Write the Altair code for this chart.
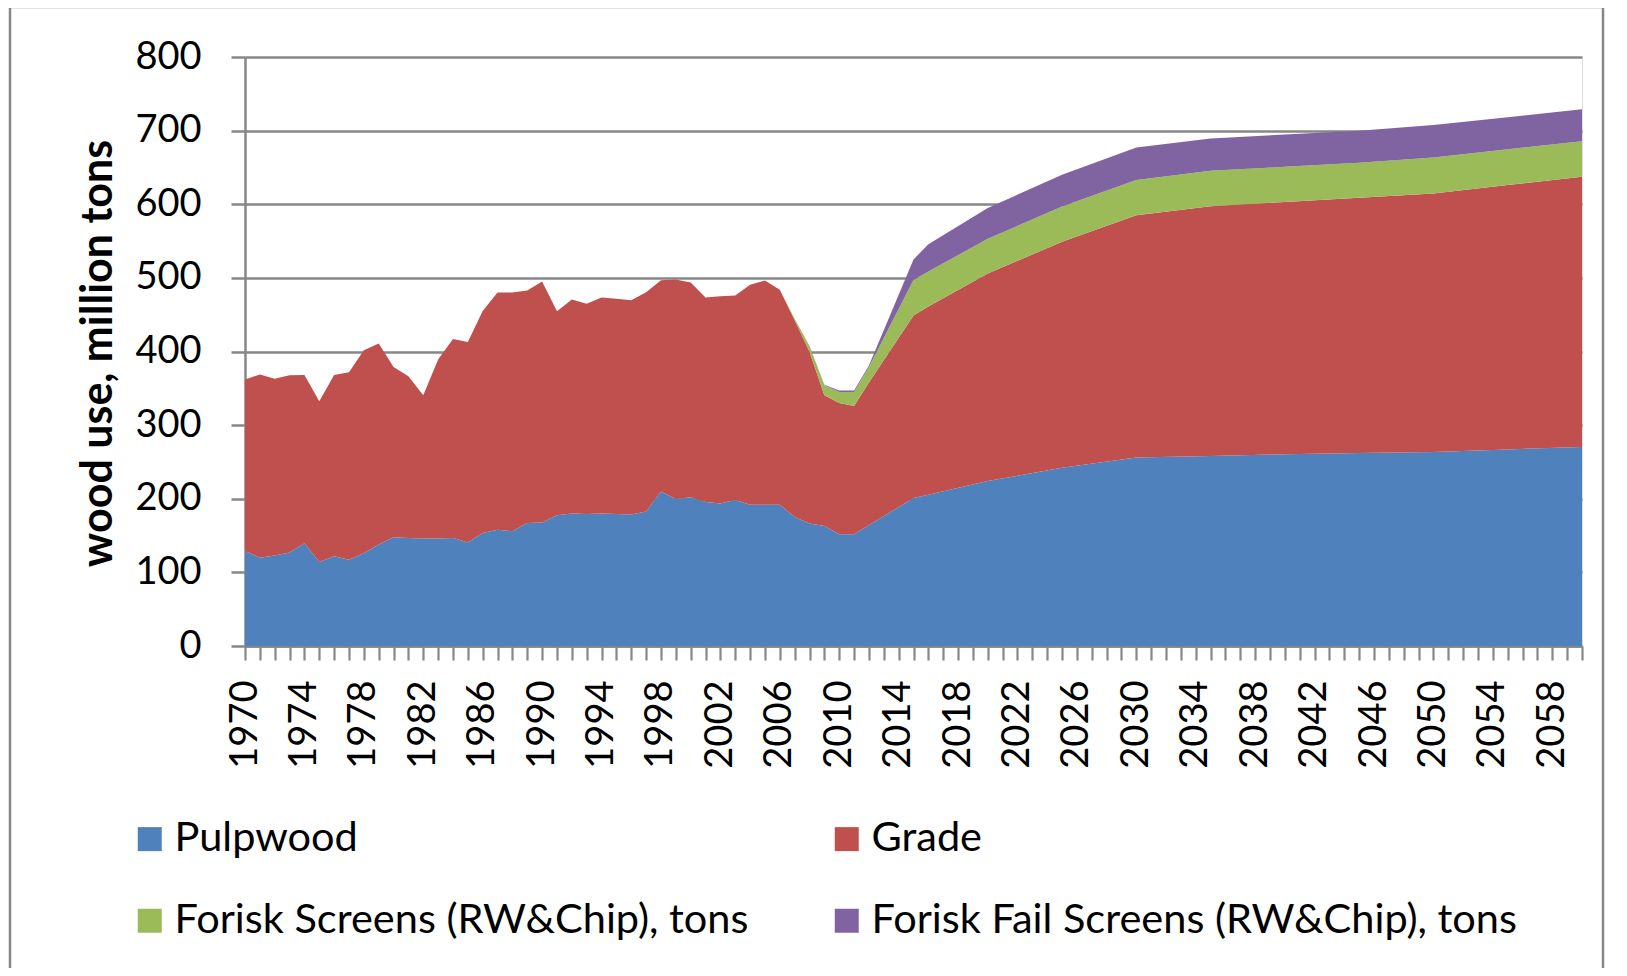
import altair as alt
import pandas as pd

years = list(range(1970, 2013)) + [2015, 2016, 2020, 2025, 2030, 2035, 2040, 2045, 2050, 2055, 2060]

pulpwood = [129, 120, 123, 127, 139.5, 114, 122, 117, 126, 138,
            147.7, 146.7, 146, 146, 146.7, 140.5, 153.6, 158, 156, 167,
            167.6, 177.6, 180, 179.4, 180, 179.4, 178.5, 182.6, 210, 199.8,
            202, 195.7, 193.5, 198.4, 192, 192, 192, 175.3, 166.3, 163,
            151.8, 151.8, 164,
            201, 205.6, 224, 242, 256, 258, 260.5, 262, 263.6, 267, 270.4]

grade = [233, 248.7, 240, 240.8, 228.5, 218.5, 246, 254.9, 275.8, 272.9,
         231.3, 219.7, 194.6, 243, 270.3, 272.5, 301.4, 322, 324, 316,
         327.4, 277.1, 290.6, 285.6, 293.3, 292.1, 291.2, 298, 286.9, 298,
         291.7, 277.6, 281.5, 277.6, 298.5, 304.4, 292, 267.2, 233.2, 177.6,
         178.2, 174.2, 194,
         248, 255.4, 282, 307, 329, 339.4, 342.5, 346.7, 351, 359, 366.8]

screens = [0] * 37 + [2, 7.5, 13.4, 15, 19, 21,
                      48, 47.7, 47, 48, 48, 48, 47.8, 47.7, 48.9, 48.7, 48.5]

fail_screens = [0] * 37 + [0, 0.5, 1, 2, 2, 2,
                           28, 37, 42, 43, 44, 44, 44, 43.6, 44, 43.6, 43.3]

series_names = ["Pulpwood", "Grade", "Forisk Screens (RW&Chip), tons",
                "Forisk Fail Screens (RW&Chip), tons"]
series_colors = ["#4F81BD", "#C0504D", "#9BBB59", "#8064A2"]
y_ticks = list(range(0, 801, 100))
x_ticks = list(range(1970, 2061))

values = [pulpwood, grade, screens, fail_screens]
rows = []
for i, name in enumerate(series_names):
    for yr, v in zip(years, values[i]):
        rows.append({"year": yr, "value": v, "series": name, "order": i})
df = pd.DataFrame(rows)

FONT = "Lato"
GRAY = "#878787"

area = alt.Chart(df).mark_area(opacity=1, interpolate="linear").encode(
    x=alt.X("year:Q",
            scale=alt.Scale(domain=[1970, 2060], nice=False, zero=False),
            axis=alt.Axis(values=x_ticks, format="d", title=None,
                          labelExpr="(datum.value - 1970) % 4 == 0 ? datum.label : ''",
                          labelAngle=270, labelFontSize=38, labelFont=FONT,
                          labelColor="#000000", labelPadding=20, labelOverlap=False,
                          labelFlush=False, tickSize=14, tickWidth=2.2, tickColor=GRAY,
                          domainColor=GRAY, domainWidth=2.5, grid=False)),
    y=alt.Y("value:Q", stack="zero",
            scale=alt.Scale(domain=[0, 800], nice=False),
            axis=alt.Axis(values=y_ticks, title="wood use, million tons",
                          titleFont=FONT, titleFontSize=43, titleFontWeight="bold",
                          titleColor="#000000", titleAngle=270, titleX=-147, titleY=296,
                          titleAlign="center", titleBaseline="middle",
                          labelFontSize=38, labelFont=FONT, labelColor="#000000",
                          labelPadding=30, labelFlush=False, tickSize=14, tickWidth=2.5,
                          tickColor=GRAY, domainColor=GRAY, domainWidth=2.5,
                          grid=True, gridColor=GRAY, gridWidth=2.5)),
    color=alt.Color("series:N",
                    scale=alt.Scale(domain=series_names, range=series_colors),
                    legend=alt.Legend(title=None, orient="none", legendX=-116, legendY=761,
                                      direction="horizontal",
                                      columns=2, symbolType="square", symbolSize=576,
                                      symbolStrokeWidth=0, symbolOpacity=1,
                                      labelFont=FONT, labelFontSize=41.5, labelColor="#000000",
                                      labelLimit=1000, labelOffset=4, columnPadding=77,
                                      rowPadding=39, padding=0)),
    order=alt.Order("order:Q", sort="ascending"),
)

frame = alt.Chart(pd.DataFrame({"a": [0]})).mark_rect(
    fill="transparent", stroke=GRAY, strokeWidth=2.5
).encode(
    x=alt.value(-235), x2=alt.value(1358), y=alt.value(-50), y2=alt.value(960)
)

chart = alt.layer(frame, area).properties(
    width=1337, height=589,
    autosize=alt.AutoSizeParams(type="none"),
    padding={"left": 237, "top": 49, "right": 30, "bottom": 322},
).configure_view(stroke=None).configure(background="#ffffff")

chart.save("out.html", embed_options={"renderer": "svg", "actions": False})
